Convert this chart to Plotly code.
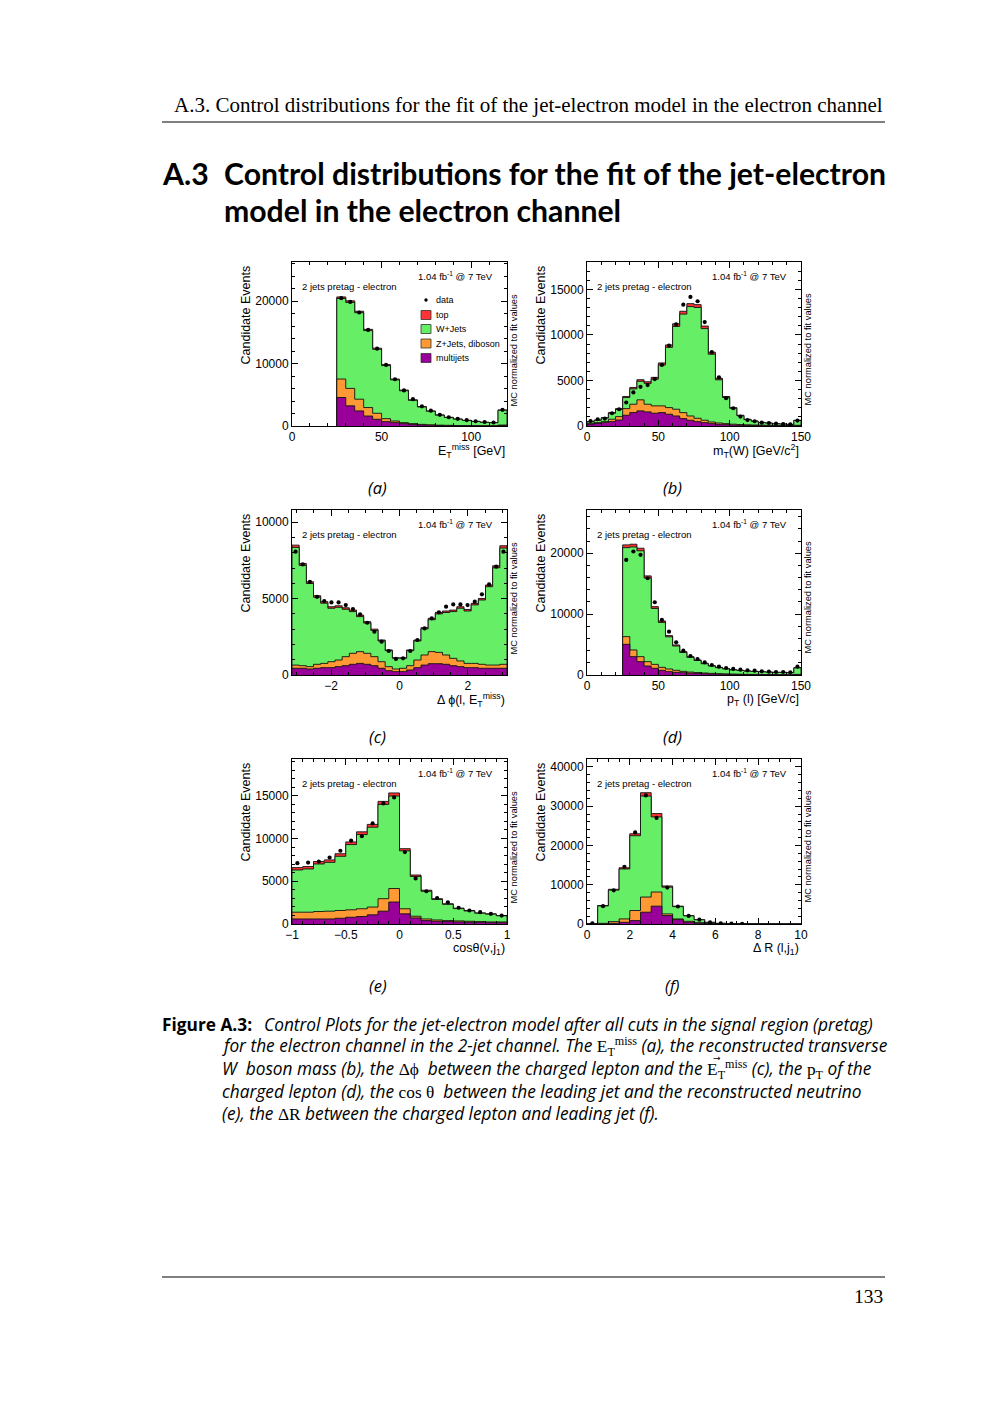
import numpy as np
import plotly.graph_objects as go

# ---------------- data ----------------
# (a) E_T^miss, bins of 5 GeV from 25 to 120 (last = overflow)
a_edges = list(range(25, 121, 5))
a_multijet = [4570, 3230, 2420, 1600, 1080, 700, 540, 380, 250, 160, 110, 80, 60, 40, 30, 25, 20, 15, 80]
a_zjets = [2960, 2800, 1880, 1360, 960, 480, 260, 160, 130, 100, 80, 60, 50, 40, 30, 25, 20, 15, 70]
a_wjets = [12920, 13790, 13870, 12340, 10260, 8510, 6600, 5110, 3730, 2790, 2170, 1590, 1250, 1020, 830, 680, 542, 495, 2370]
a_top = [250, 250, 230, 200, 180, 160, 130, 110, 90, 70, 60, 50, 40, 30, 25, 20, 18, 15, 60]
a_data = [20500, 19900, 18200, 15400, 12400, 9800, 7500, 5700, 4300, 3150, 2450, 1800, 1400, 1150, 930, 760, 640, 560, 2600]

# (b) m_T(W), bins of 5 from 0 to 150
b_edges = list(range(0, 151, 5))
b_multijet = [180, 290, 370, 480, 660, 1180, 1470, 1660, 1550, 1400, 1470, 1290, 1100, 810, 630, 480, 370, 260, 180, 150, 100, 80, 60, 50, 40, 30, 25, 20, 15, 30]
b_zjets = [80, 80, 110, 260, 370, 730, 920, 1210, 840, 810, 740, 730, 740, 660, 470, 370, 260, 180, 150, 110, 100, 80, 70, 60, 50, 50, 45, 40, 35, 50]
b_wjets = [190, 250, 390, 660, 790, 1210, 1690, 2040, 2290, 2930, 4480, 6620, 9090, 10810, 12010, 12160, 10060, 7440, 4740, 2870, 1740, 970, 575, 415, 290, 235, 178, 150, 122, 525]
b_top = [30, 40, 50, 70, 90, 120, 150, 170, 180, 200, 230, 260, 290, 310, 320, 310, 280, 220, 160, 110, 80, 50, 35, 25, 20, 15, 12, 10, 8, 25]
b_data = [550, 740, 810, 1400, 1840, 2580, 3680, 4300, 4490, 5150, 6700, 8830, 11150, 13320, 14170, 13690, 11410, 8100, 5340, 3050, 1950, 1030, 660, 520, 370, 330, 260, 220, 180, 590]

# (c) delta phi, 30 bins from -pi to pi
c_edges = list(np.linspace(-np.pi, np.pi, 31))
c_multijet = [440, 440, 390, 440, 480, 480, 545, 610, 700, 760, 700, 610, 440, 280, 220, 220, 330, 480, 650, 740, 740, 700, 610, 545, 480, 480, 440, 440, 440, 440]
c_zjets = [210, 170, 155, 260, 280, 390, 435, 590, 720, 770, 720, 590, 430, 265, 170, 220, 280, 500, 660, 790, 740, 610, 480, 375, 280, 280, 260, 210, 210, 260]
c_wjets = [7700, 6560, 5445, 4390, 3940, 3500, 3450, 3100, 2730, 2290, 1980, 1720, 1360, 1050, 705, 655, 985, 1250, 1710, 2090, 2520, 2780, 3060, 3450, 3430, 3830, 4210, 5130, 6370, 7610]
c_top = [150, 130, 110, 100, 100, 100, 100, 100, 100, 100, 90, 80, 60, 45, 35, 35, 45, 60, 80, 90, 100, 100, 100, 100, 100, 100, 100, 110, 130, 150]
c_data = [8070, 7240, 6100, 5120, 4840, 4750, 4750, 4580, 4320, 3970, 3420, 2830, 2180, 1570, 1050, 1090, 1570, 2290, 3050, 3710, 4100, 4470, 4620, 4620, 4580, 4800, 5280, 5930, 7090, 8070]

# (d) lepton pT, bins of 5 from 25 to 150
d_edges = list(range(25, 151, 5))
d_multijet = [5040, 3010, 2190, 1480, 1100, 770, 550, 440, 380, 300, 250, 200, 160, 130, 110, 90, 80, 70, 60, 50, 45, 40, 35, 30, 60]
d_zjets = [1260, 1100, 820, 710, 650, 490, 440, 330, 220, 180, 150, 130, 110, 90, 70, 60, 50, 40, 35, 35, 30, 25, 20, 20, 40]
d_wjets = [14620, 16920, 17390, 13740, 9180, 7370, 5280, 3990, 3100, 2420, 1980, 1520, 1200, 990, 820, 695, 610, 525, 483, 445, 397, 359, 370, 316, 1070]
d_top = [450, 450, 420, 350, 300, 250, 200, 170, 140, 110, 90, 70, 60, 50, 40, 35, 30, 25, 22, 20, 18, 16, 15, 14, 40]
d_data = [18900, 20280, 19730, 15890, 11950, 9040, 7120, 5370, 4000, 3120, 2630, 2080, 1640, 1370, 1150, 990, 880, 770, 710, 600, 550, 490, 490, 440, 1370]

# (e) cos theta(nu, j1), 20 bins from -1 to 1
e_edges = list(np.linspace(-1, 1, 21))
e_multijet = [590, 590, 590, 590, 670, 790, 870, 1070, 1500, 2570, 1190, 710, 400, 320, 280, 240, 200, 200, 160, 160]
e_zjets = [790, 790, 870, 910, 910, 870, 910, 910, 1460, 1580, 590, 200, 190, 150, 120, 120, 120, 80, 80, 80]
e_wjets = [4940, 5060, 5560, 5710, 6340, 7630, 8680, 9340, 11030, 10820, 6780, 4650, 3240, 2400, 1900, 1440, 1210, 980, 915, 720]
e_top = [280, 280, 290, 290, 300, 310, 320, 330, 350, 360, 250, 170, 120, 90, 70, 60, 50, 40, 35, 30]
e_data = [7110, 7190, 7310, 7780, 8570, 9760, 10270, 11770, 14100, 14810, 8410, 5330, 3830, 3040, 2530, 1900, 1580, 1380, 1190, 990]

# (f) delta R(l, j1), 20 bins from 0 to 10
f_edges = list(np.linspace(0, 10, 21))
f_multijet = [0, 20, 170, 430, 860, 3000, 4540, 2140, 1110, 430, 170, 90, 40, 20, 10, 5, 0, 0, 0, 0]
f_zjets = [0, 150, 430, 860, 2570, 3860, 3600, 430, 180, 260, 170, 80, 40, 20, 10, 5, 5, 0, 0, 0]
f_wjets = [85, 4440, 8030, 12720, 19040, 25710, 19120, 6810, 3130, 1390, 740, 245, 82, 46, 18, 9, 5, 5, 0, 0]
f_top = [5, 100, 200, 300, 500, 850, 850, 300, 120, 60, 30, 15, 8, 4, 2, 1, 0, 0, 0, 0]
f_data = [170, 4540, 8570, 14570, 23310, 32740, 27000, 9260, 4460, 2060, 1110, 430, 170, 80, 30, None, None, None, None, None]

legend_labels = ["data", "top", "W+Jets", "Z+Jets, diboson", "multijets"]
x_titles = ["E<sub>T</sub><sup>miss</sup> [GeV]", "m<sub>T</sub>(W) [GeV/c<sup>2</sup>]",
            "Δ ϕ(l, E<sub>T</sub><sup>miss</sup>)", "p<sub>T</sub> (l) [GeV/c]",
            "cosθ(ν,j<sub>1</sub>)", "Δ R (l,j<sub>1</sub>)"]
sub_labels = ["(a)", "(b)", "(c)", "(d)", "(e)", "(f)"]

# ---------------- styling ----------------
W, H = 1000, 1414
OFF = 8  # page body margin of the html page
C_TOP = "#FF3333"
C_W = "#66EE66"
C_Z = "#FF9933"
C_MJ = "#990099"
AX_FONT = "Liberation Sans"
SANS = "Open Sans"
TITLE_SANS = "Lato"
SERIF = "Liberation Serif"
CAP_SIZE = 17.3


def px(x):
    return (x - OFF) / W


def py(y):
    return 1 - (y - OFF) / H


panels = [
    dict(edges=a_edges, mj=a_multijet, z=a_zjets, w=a_wjets, top=a_top, data=a_data,
         frame=(292, 507, 262, 426), xr=[0, 120], yr=[0, 26300], xd=50, xm=10, yd=10000, ym=2000),
    dict(edges=b_edges, mj=b_multijet, z=b_zjets, w=b_wjets, top=b_top, data=b_data,
         frame=(587, 801, 262, 426), xr=[0, 150], yr=[0, 18000], xd=50, xm=10, yd=5000, ym=1000),
    dict(edges=c_edges, mj=c_multijet, z=c_zjets, w=c_wjets, top=c_top, data=c_data,
         frame=(292, 507, 510, 675), xr=[-np.pi, np.pi], yr=[0, 10800], xd=2, xm=0.5, yd=5000, ym=1000),
    dict(edges=d_edges, mj=d_multijet, z=d_zjets, w=d_wjets, top=d_top, data=d_data,
         frame=(587, 801, 510, 675), xr=[0, 150], yr=[0, 27100], xd=50, xm=10, yd=10000, ym=2000),
    dict(edges=e_edges, mj=e_multijet, z=e_zjets, w=e_wjets, top=e_top, data=e_data,
         frame=(292, 507, 759, 924), xr=[-1, 1], yr=[0, 19300], xd=0.5, xm=0.1, yd=5000, ym=1000),
    dict(edges=f_edges, mj=f_multijet, z=f_zjets, w=f_wjets, top=f_top, data=f_data,
         frame=(587, 801, 759, 924), xr=[0, 10], yr=[0, 42000], xd=2, xm=0.5, yd=10000, ym=2000),
]


def step_xy(edges, vals):
    xs = [edges[0]]
    ys = [0]
    for i, v in enumerate(vals):
        xs.append(edges[i])
        ys.append(v)
    xs.append(edges[-1])
    ys.append(vals[-1])
    xs.append(edges[-1])
    ys.append(0)
    return xs, ys


fig = go.Figure()
annotations = []
shapes = []
layout_axes = {}

for i, p in enumerate(panels):
    k = i + 1
    xa = "x" if k == 1 else f"x{k}"
    ya = "y" if k == 1 else f"y{k}"
    edges = p["edges"]
    mj = np.array(p["mj"], dtype=float)
    cz = mj + np.array(p["z"], dtype=float)
    cw = cz + np.array(p["w"], dtype=float)
    tot = cw + np.array(p["top"], dtype=float)
    for vals, col in [(tot, C_TOP), (cw, C_W), (cz, C_Z), (mj, C_MJ)]:
        xs, ys = step_xy(edges, list(vals))
        fig.add_trace(go.Scatter(x=xs, y=ys, mode="lines", line=dict(color="#111111", width=0.9, shape="hv"),
                                 fill="tozeroy", fillcolor=col, xaxis=xa, yaxis=ya, showlegend=False,
                                 hoverinfo="skip"))
    centers = [(edges[j] + edges[j + 1]) / 2 for j in range(len(edges) - 1)]
    fig.add_trace(go.Scatter(x=centers, y=p["data"], mode="markers",
                             marker=dict(color="black", size=4.2), xaxis=xa, yaxis=ya, showlegend=False))

    l, r, t, b = p["frame"]
    axstyle = dict(showline=True, linecolor="black", linewidth=1, mirror="allticks", ticks="inside",
                   ticklen=6, tickwidth=1, tickcolor="black", showgrid=False, zeroline=False,
                   automargin=False, tickfont=dict(family=AX_FONT, size=12, color="black"))
    layout_axes["xaxis" if k == 1 else f"xaxis{k}"] = dict(
        domain=[px(l), px(r)], range=p["xr"], anchor=ya, tick0=0, dtick=p["xd"],
        minor=dict(ticks="inside", ticklen=3, tickcolor="black", dtick=p["xm"], tick0=0, showgrid=False),
        **axstyle)
    layout_axes["yaxis" if k == 1 else f"yaxis{k}"] = dict(
        domain=[py(b), py(t)], range=p["yr"], anchor=xa, tick0=0, dtick=p["yd"], tickformat="d",
        minor=dict(ticks="inside", ticklen=3, tickcolor="black", dtick=p["ym"], tick0=0, showgrid=False),
        **axstyle)

    # panel texts
    annotations.append(dict(x=px(r - 12), y=py(t + 14), xref="paper", yref="paper", xanchor="right",
                            yanchor="middle", showarrow=False, text="1.04 fb<sup>-1</sup> @ 7 TeV",
                            font=dict(family=AX_FONT, size=9.5, color="black")))
    annotations.append(dict(x=px(l + 8), y=py(t + 24), xref="paper", yref="paper", xanchor="left",
                            yanchor="middle", showarrow=False, text="2 jets pretag - electron",
                            font=dict(family=AX_FONT, size=9.5, color="black")))
    annotations.append(dict(x=px(r + 6.5), y=py(t + 88), xref="paper", yref="paper", xanchor="center",
                            yanchor="middle", showarrow=False, text="MC normalized to fit values",
                            textangle=-90, font=dict(family=AX_FONT, size=9.3, color="black")))
    annotations.append(dict(x=px(l - 47), y=py(t + 2), xref="paper", yref="paper", xanchor="center",
                            yanchor="top", showarrow=False, text="Candidate Events",
                            textangle=-90, font=dict(family=AX_FONT, size=12.5, color="black")))
    annotations.append(dict(x=px(r), y=py(b + 25), xref="paper", yref="paper", xanchor="right",
                            yanchor="middle", showarrow=False, text=x_titles[i],
                            font=dict(family=AX_FONT, size=12.5, color="black")))
    annotations.append(dict(x=px((l + r) / 2 - 22), y=py(b + 61), xref="paper", yref="paper",
                            xanchor="center", yanchor="middle", showarrow=False, text=sub_labels[i],
                            font=dict(family=SANS, size=16.5, color="black", style="italic")))

# legend in panel (a)
leg_y = [300, 315, 329, 343.5, 358]
leg_cols = [None, C_TOP, C_W, C_Z, C_MJ]
for lab, yy, col in zip(legend_labels, leg_y, leg_cols):
    if col is None:
        shapes.append(dict(type="circle", xref="paper", yref="paper", x0=px(424.3), x1=px(427.7),
                           y0=py(yy + 1.7), y1=py(yy - 1.7), fillcolor="black", line=dict(width=0)))
    else:
        shapes.append(dict(type="rect", xref="paper", yref="paper", x0=px(421), x1=px(431),
                           y0=py(yy + 4.5), y1=py(yy - 4.5), fillcolor=col,
                           line=dict(color="#333333", width=0.8)))
    annotations.append(dict(x=px(433.5), y=py(yy), xref="paper", yref="paper", xanchor="left",
                            yanchor="middle", showarrow=False, text=lab,
                            font=dict(family=AX_FONT, size=9, color="black")))

# ---------------- page elements ----------------
annotations.append(dict(x=px(885), y=py(105), xref="paper", yref="paper", xanchor="right", yanchor="middle",
                        showarrow=False,
                        text="A.3. Control distributions for the fit of the jet-electron model in the electron channel",
                        font=dict(family=SERIF, size=21, color="black")))
shapes.append(dict(type="line", xref="paper", yref="paper", x0=px(162), x1=px(885), y0=py(122), y1=py(122),
                   line=dict(color="black", width=1)))
annotations.append(dict(x=px(160), y=py(173), xref="paper", yref="paper", xanchor="left", yanchor="middle",
                        showarrow=False, text="<b>A.3</b>", font=dict(family=TITLE_SANS, size=30.2, color="black")))
annotations.append(dict(x=px(222), y=py(173), xref="paper", yref="paper", xanchor="left", yanchor="middle",
                        showarrow=False, text="<b>Control distributions for the fit of the jet-electron</b>",
                        font=dict(family=TITLE_SANS, size=30.2, color="black")))
annotations.append(dict(x=px(222), y=py(210), xref="paper", yref="paper", xanchor="left", yanchor="middle",
                        showarrow=False, text="<b>model in the electron channel</b>",
                        font=dict(family=TITLE_SANS, size=30.2, color="black")))

MATH = "<span style='font-family:Liberation Serif;font-style:normal'>%s</span>"
caption_lines = [
    (262, "Control Plots for the jet-electron model after all cuts in the signal region (pretag)"),
    (220, "for the electron channel in the 2-jet channel. The " + MATH % "E<sub>T</sub><sup>miss</sup>"
     + " (a), the reconstructed transverse"),
    (220, "W  boson mass (b), the " + MATH % "Δϕ" + "  between the charged lepton and the "
     + MATH % "E<sub>T</sub><sup>miss</sup>" + " (c), the " + MATH % "p<sub>T</sub>" + " of the"),
    (220, "charged lepton (d), the " + MATH % "cos θ" + "  between the leading jet and the reconstructed neutrino"),
    (220, "(e), the " + MATH % "ΔR" + " between the charged lepton and leading jet (f)."),
]
cap_y = [1024, 1046, 1069, 1091, 1113]
annotations.append(dict(x=px(160), y=py(cap_y[0]), xref="paper", yref="paper", xanchor="left",
                        yanchor="middle", showarrow=False, text="<b>Figure A.3:</b>",
                        font=dict(family=SANS, size=CAP_SIZE, color="black")))
for (x0, txt), yy in zip(caption_lines, cap_y):
    annotations.append(dict(x=px(x0), y=py(yy), xref="paper", yref="paper", xanchor="left",
                            yanchor="middle", showarrow=False, text=txt,
                            font=dict(family=SANS, size=CAP_SIZE, color="black", style="italic")))
# vector arrow over the E in caption line 3
annotations.append(dict(x=px(717), y=py(1058), xref="paper", yref="paper", xanchor="center",
                        yanchor="middle", showarrow=False, text="→",
                        font=dict(family="DejaVu Sans", size=9, color="black")))

shapes.append(dict(type="line", xref="paper", yref="paper", x0=px(162), x1=px(885), y0=py(1277), y1=py(1277),
                   line=dict(color="black", width=1)))
annotations.append(dict(x=px(885), y=py(1296), xref="paper", yref="paper", xanchor="right", yanchor="middle",
                        showarrow=False, text="133", font=dict(family=SERIF, size=19.5, color="black")))

fig.update_layout(template="none", width=W, height=H,
                  margin=dict(l=0, r=0, t=0, b=0, pad=0, autoexpand=False),
                  paper_bgcolor="white", plot_bgcolor="white", showlegend=False, hovermode=False,
                  font=dict(family=AX_FONT, color="black"),
                  annotations=annotations, shapes=shapes, **layout_axes)
fig.write_html("out.html")
